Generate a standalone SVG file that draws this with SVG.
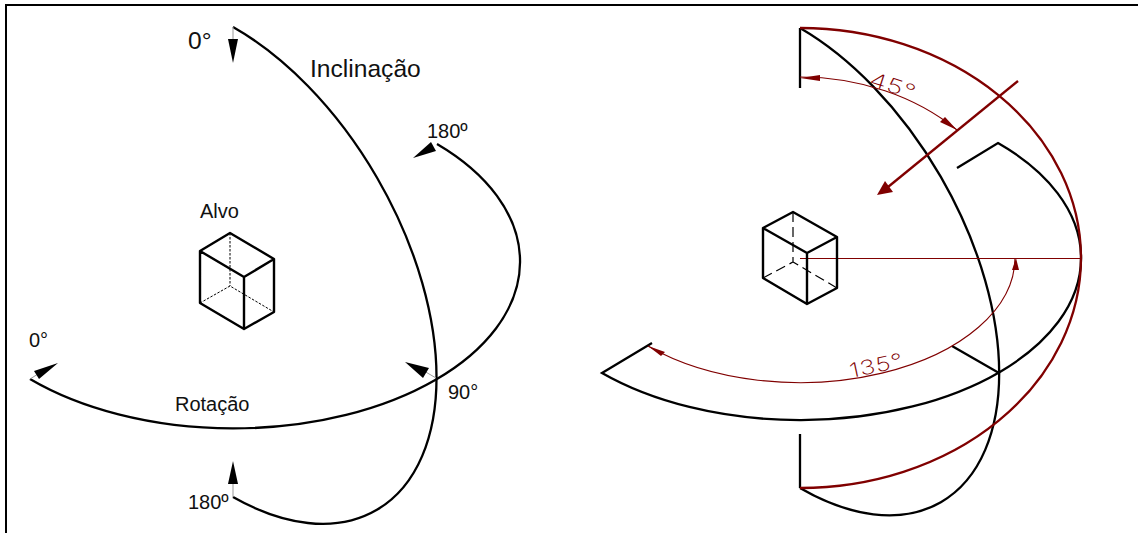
<svg xmlns="http://www.w3.org/2000/svg" width="1138" height="533" viewBox="0 0 1138 533">
<style>
text{font-family:"Liberation Sans",Arial,sans-serif;fill:#111}
.s{font-size:20px}
.l{font-size:24.6px}
.b{fill:none;stroke:#000;stroke-width:2.3}
.r{fill:none;stroke:#800000;stroke-width:2.3}
.t{fill:none;stroke:#800000;stroke-width:1.1}
.g{fill:none;stroke:#999;stroke-width:1}
.h{fill:#000}
.rh{fill:#800000}
.c{fill:none;stroke:#000;stroke-width:2.4;stroke-linejoin:round}
.d1{fill:none;stroke:#000;stroke-width:1;stroke-dasharray:2.5 1.5}
.d2{fill:none;stroke:#000;stroke-width:1.2;stroke-dasharray:10 5}
.dim{font-family:"Inter","Liberation Sans",sans-serif;font-size:20px;font-weight:200;fill:#800000;letter-spacing:.5px}
</style>
<path id="frame" d="M6,533V5H1138" fill="none" stroke="#000" stroke-width="2"/>
<g id="connectors">
<g id="left-curves">
<path class="b" d="M233,27A285,166 60 0 1 233,497"/>
<path class="b" d="M30,379A285,166 0 1 0 437,144"/>
<path class="g" d="M233,27V40M233,497V484M30,379L38,374M436,378L424,371"/>
<polygon class="h" points="228,39 238,39 233,63"/>
<polygon class="h" points="228,484 238,484 233,461"/>
<polygon class="h" points="58,363 34,371 39,379"/>
<polygon class="h" points="405,362 429,368 423,378"/>
<polygon class="h" points="413,158 431,142 436,151"/>
</g>
<g id="right-curves">
<path class="b" d="M800,28A281,162 60 0 1 800,488"/>
<path class="b" d="M652,343L602,373A281,162 0 1 0 998,143L957,168"/>
<path class="b" d="M952,346L999,373M800,28V88M800,434V488"/>
<path class="r" d="M800,28A281,230 0 0 1 800,488"/>
<path class="r" d="M1018,81L888,187"/>
<polygon class="rh" points="877,195 885,181 893,192"/>
<path class="t" d="M800,258.5H1081"/>
<path class="t" d="M800,77A222,181 0 0 1 957,130"/>
<polygon class="rh" points="800,78 820,75 820,81"/>
<polygon class="rh" points="957,130 940,122 945,117"/>
<path class="t" d="M648,346A215,125 0 0 0 1015,258"/>
<polygon class="rh" points="648,346 665,352 661,356"/>
<polygon class="rh" points="1016,258 1012,270 1019,270"/>
</g>
</g>
<g id="cube-left">
<path class="d1" d="M230,233V286M200,303L230,286L274,312"/>
<path class="c" d="M230,233L200,251L244,277L274,259ZM200,251V303L244,329L274,312V259M244,277V329"/>
</g>
<g id="cube-right">
<path class="d2" d="M793,212V262M763,278L793,262L837,288"/>
<path class="c" d="M793,212L763,228L807,253L837,237ZM763,228V278L807,304L837,288V237M807,253V304"/>
</g>
<g id="labels">
<text class="l" x="188" y="49">0°</text>
<text class="l" x="310" y="77">Inclinação</text>
<text class="s" x="427" y="138">180º</text>
<text class="s" x="200" y="218">Alvo</text>
<text class="s" x="29" y="347">0°</text>
<text class="s" x="175" y="411">Rotação</text>
<text class="s" x="448" y="399">90°</text>
<text class="s" x="188" y="509">180º</text>
<text class="dim" transform="translate(868,85) rotate(18) scale(1.4,1)">45°</text>
<text class="dim" transform="translate(851,378) rotate(-12) scale(1.3,1)">135°</text>
</g>
</svg>
